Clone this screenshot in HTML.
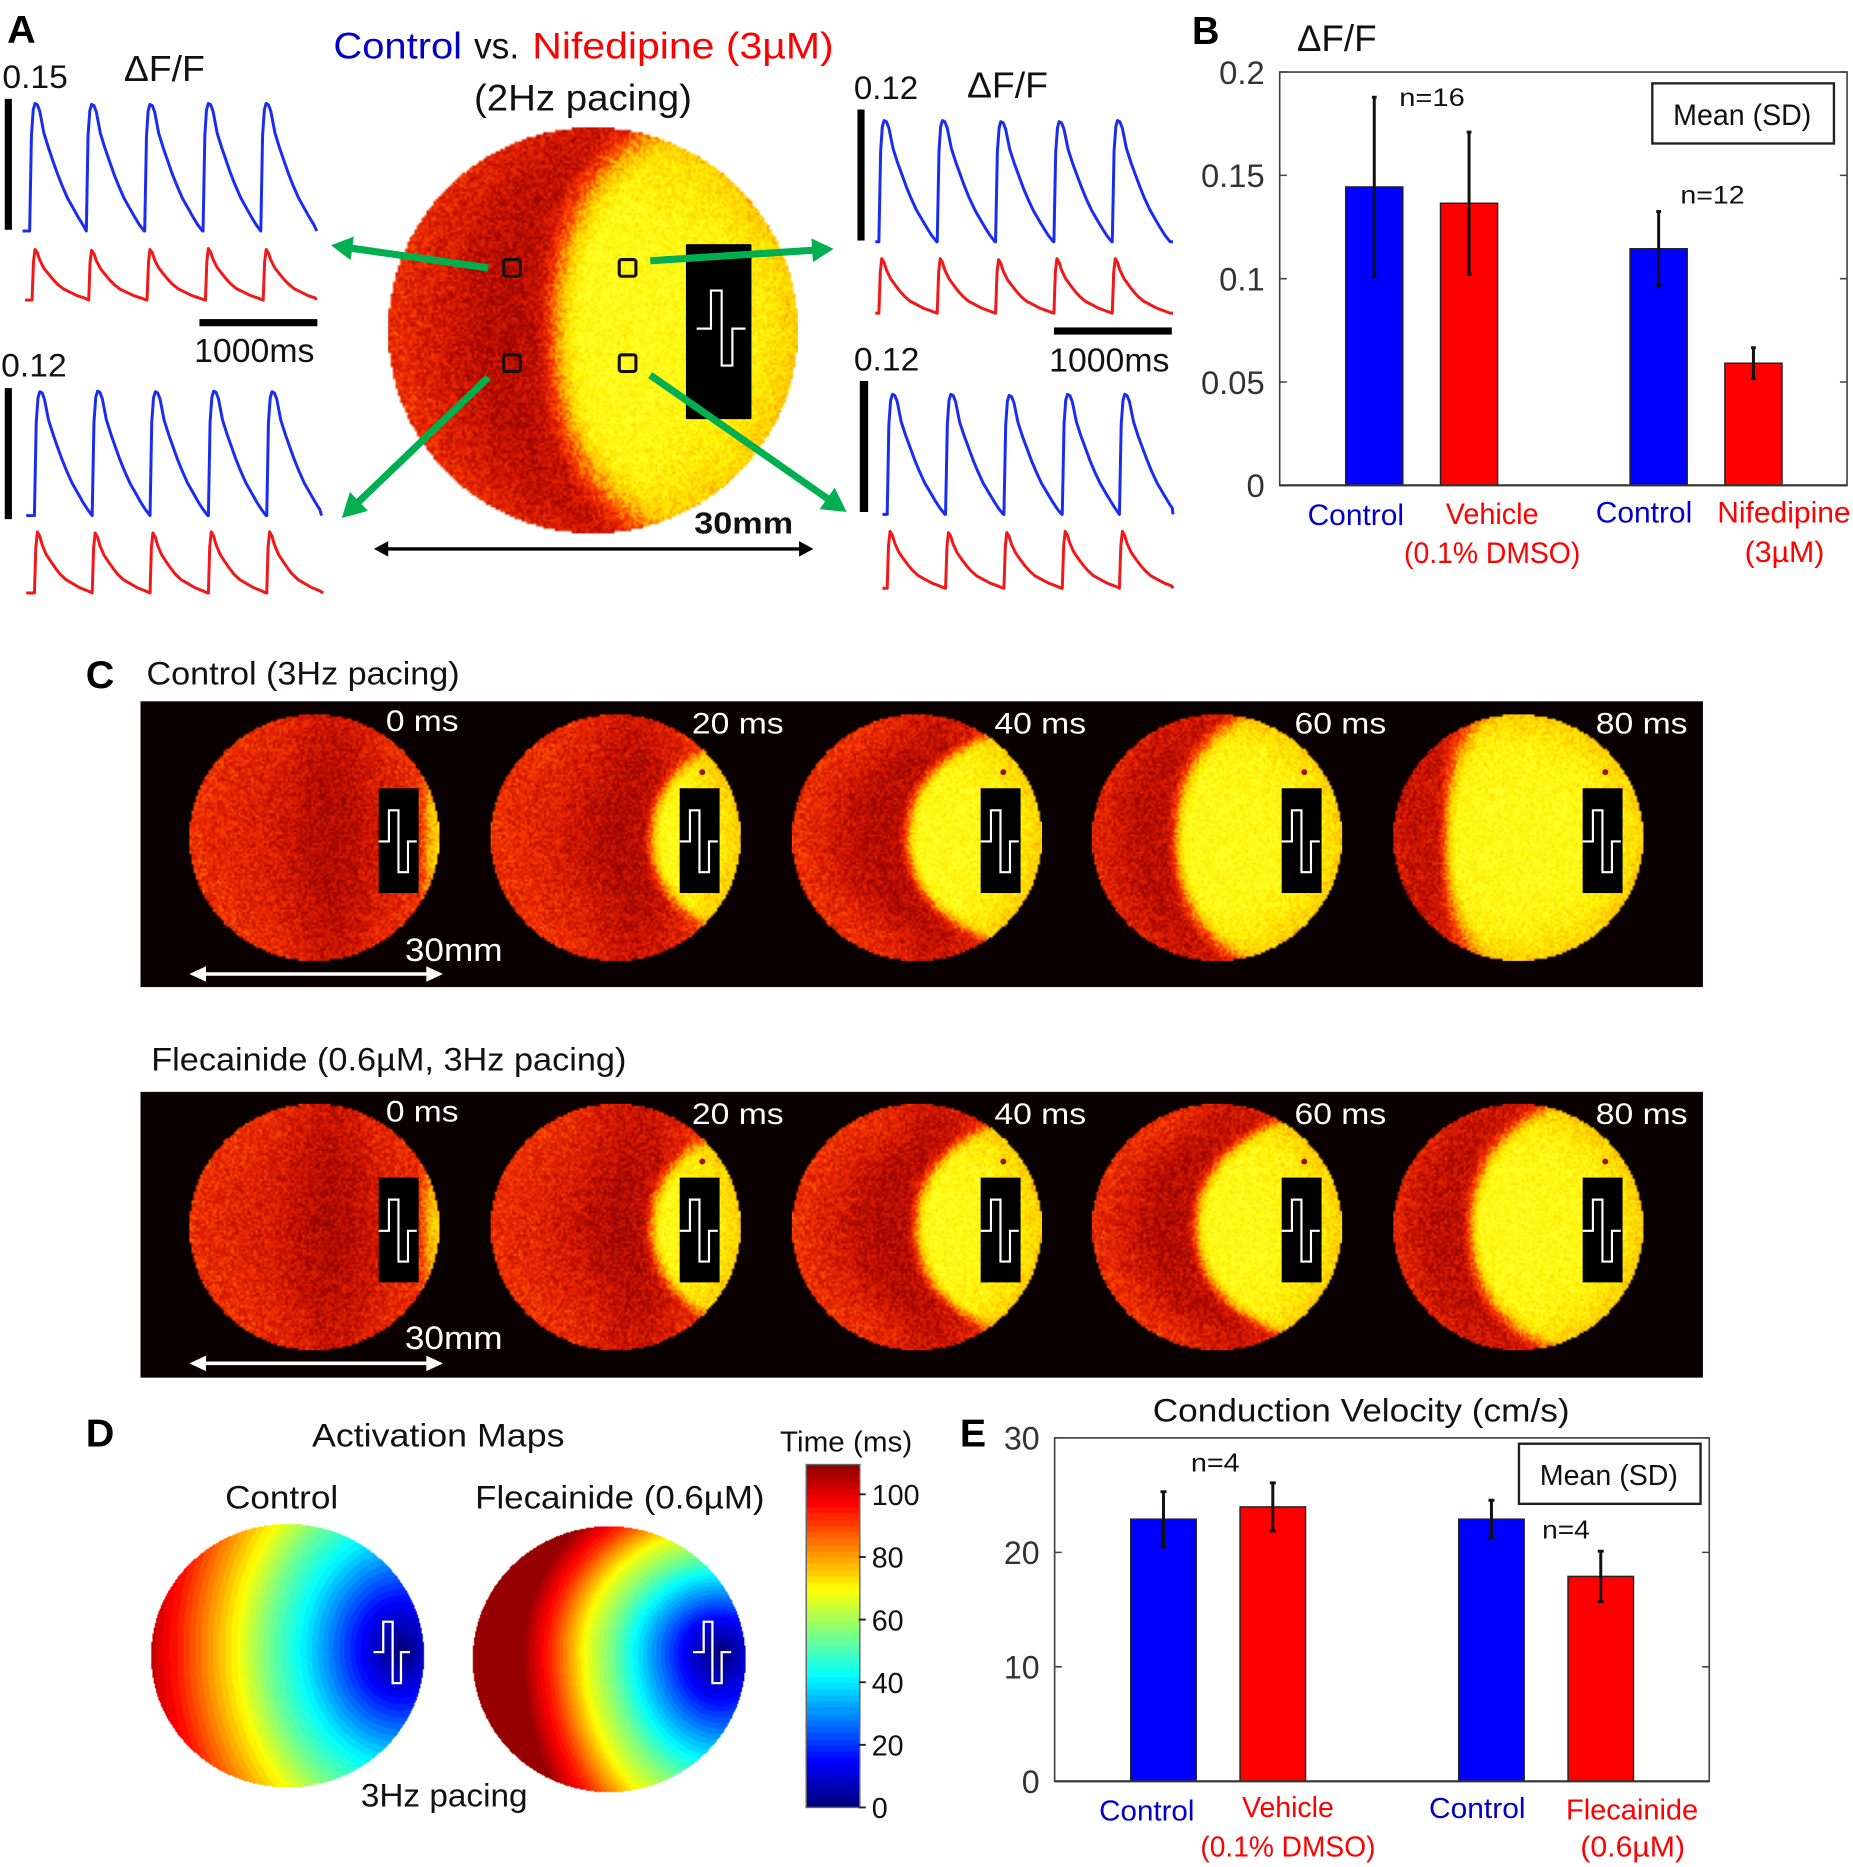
<!DOCTYPE html>
<html lang="en">
<head>
<meta charset="utf-8">
<title>Optical mapping figure: Control vs. Nifedipine and Flecainide</title>
<style>
html,body{margin:0;padding:0;background:#fff;width:1853px;height:1867px;overflow:hidden}
#stage{position:absolute;left:0;top:0;width:1556px;height:1568px;transform:scale(1.19087,1.19069);transform-origin:0 0}
#stage canvas{position:absolute}
.panel-bg{position:absolute;left:118px;width:1312px;height:240px;background:#0a0000}
#overlay{position:absolute;left:0;top:0;width:1556px;height:1568px}
text{font-family:"Liberation Sans",sans-serif;fill:#111}
.letter{font-weight:bold;font-size:33px;fill:#000}
.blue{fill:#0000c8}.red{fill:#ff0000}.white{fill:#fff}
.tick{fill:#333;font-size:26px}
</style>
</head>
<body>
<div id="stage">
  <div class="panel-bg" style="top:589px"></div>
  <div class="panel-bg" style="top:917px"></div>
  <div id="maps"></div>
  <svg id="overlay" viewBox="0 0 1556 1568" xmlns="http://www.w3.org/2000/svg">
    <g id="gA">
      <text class="letter" x="6" y="36" textLength="24" lengthAdjust="spacingAndGlyphs">A</text>
      <text x="280" y="49" font-size="31" class="blue" textLength="108" lengthAdjust="spacingAndGlyphs">Control</text>
      <text x="398" y="49" font-size="31" textLength="38" lengthAdjust="spacingAndGlyphs">vs.</text>
      <text x="447" y="49" font-size="31" class="red" textLength="253" lengthAdjust="spacingAndGlyphs">Nifedipine (3µM)</text>
      <text x="398" y="93" font-size="31" textLength="183" lengthAdjust="spacingAndGlyphs">(2Hz pacing)</text>
      <text x="2" y="74" font-size="27" textLength="55" lengthAdjust="spacingAndGlyphs">0.15</text>
      <text x="104" y="68" font-size="30" textLength="68" lengthAdjust="spacingAndGlyphs">ΔF/F</text>
      <text x="717" y="83" font-size="27" textLength="54" lengthAdjust="spacingAndGlyphs">0.12</text>
      <text x="812" y="82" font-size="30" textLength="68" lengthAdjust="spacingAndGlyphs">ΔF/F</text>
      <text x="1" y="316" font-size="27" textLength="55" lengthAdjust="spacingAndGlyphs">0.12</text>
      <text x="717" y="311" font-size="27" textLength="55" lengthAdjust="spacingAndGlyphs">0.12</text>
      <text x="163" y="304" font-size="28" textLength="101" lengthAdjust="spacingAndGlyphs">1000ms</text>
      <text x="881" y="312" font-size="28" textLength="101" lengthAdjust="spacingAndGlyphs">1000ms</text>
      <text x="583" y="448" font-size="26" font-weight="bold" textLength="83" lengthAdjust="spacingAndGlyphs">30mm</text>
    </g>
    <g id="gB">
      <text class="letter" x="1001" y="37" textLength="23" lengthAdjust="spacingAndGlyphs">B</text>
      <text x="1089" y="43" font-size="31" textLength="67" lengthAdjust="spacingAndGlyphs">ΔF/F</text>
      <text x="1175" y="89" font-size="21" textLength="55" lengthAdjust="spacingAndGlyphs">n=16</text>
      <text x="1411" y="171" font-size="21" textLength="54" lengthAdjust="spacingAndGlyphs">n=12</text>
      <rect x="1387.5" y="70" width="152.5" height="50.5" fill="#fff" stroke="#222" stroke-width="2"/>
      <text x="1405" y="105" font-size="24.5" textLength="116" lengthAdjust="spacingAndGlyphs">Mean (SD)</text>
      <text x="1098" y="441" font-size="24.5" class="blue" textLength="81" lengthAdjust="spacingAndGlyphs">Control</text>
      <text x="1214" y="440" font-size="24.5" class="red" textLength="78" lengthAdjust="spacingAndGlyphs">Vehicle</text>
      <text x="1179" y="473" font-size="24.5" class="red" textLength="148" lengthAdjust="spacingAndGlyphs">(0.1% DMSO)</text>
      <text x="1340" y="439" font-size="24.5" class="blue" textLength="81" lengthAdjust="spacingAndGlyphs">Control</text>
      <text x="1442" y="439" font-size="24.5" class="red" textLength="112" lengthAdjust="spacingAndGlyphs">Nifedipine</text>
      <text x="1465" y="472" font-size="24.5" class="red" textLength="67" lengthAdjust="spacingAndGlyphs">(3µM)</text>
    </g>
    <g id="gC">
      <text class="letter" x="72" y="578" textLength="24" lengthAdjust="spacingAndGlyphs">C</text>
      <text x="123" y="575" font-size="27" textLength="263" lengthAdjust="spacingAndGlyphs">Control (3Hz pacing)</text>
      <text x="127" y="899" font-size="27" textLength="399" lengthAdjust="spacingAndGlyphs">Flecainide (0.6µM, 3Hz pacing)</text>
      <text x="340" y="807" font-size="27" class="white" textLength="82" lengthAdjust="spacingAndGlyphs">30mm</text>
      <text x="340" y="1133" font-size="27" class="white" textLength="82" lengthAdjust="spacingAndGlyphs">30mm</text>
    </g>
    <g id="gD">
      <text class="letter" x="72" y="1215" textLength="24" lengthAdjust="spacingAndGlyphs">D</text>
      <text x="262" y="1215" font-size="27" textLength="212" lengthAdjust="spacingAndGlyphs">Activation Maps</text>
      <text x="189" y="1267" font-size="27" textLength="95" lengthAdjust="spacingAndGlyphs">Control</text>
      <text x="399" y="1267" font-size="27" textLength="243" lengthAdjust="spacingAndGlyphs">Flecainide (0.6µM)</text>
      <text x="303" y="1517" font-size="27" textLength="140" lengthAdjust="spacingAndGlyphs">3Hz pacing</text>
      <text x="655" y="1219" font-size="24" textLength="111" lengthAdjust="spacingAndGlyphs">Time (ms)</text>
    </g>
    <g id="gE">
      <text class="letter" x="806" y="1215" textLength="22" lengthAdjust="spacingAndGlyphs">E</text>
      <text x="968" y="1194" font-size="27" textLength="350" lengthAdjust="spacingAndGlyphs">Conduction Velocity (cm/s)</text>
      <text x="1000" y="1236" font-size="22" textLength="41" lengthAdjust="spacingAndGlyphs">n=4</text>
      <text x="1295" y="1292" font-size="22" textLength="40" lengthAdjust="spacingAndGlyphs">n=4</text>
      <rect x="1275.5" y="1212.5" width="152.5" height="50.5" fill="#fff" stroke="#222" stroke-width="2"/>
      <text x="1293" y="1247" font-size="24" textLength="116" lengthAdjust="spacingAndGlyphs">Mean (SD)</text>
      <text x="923" y="1529" font-size="24" class="blue" textLength="80" lengthAdjust="spacingAndGlyphs">Control</text>
      <text x="1043" y="1526" font-size="24" class="red" textLength="77" lengthAdjust="spacingAndGlyphs">Vehicle</text>
      <text x="1008" y="1559" font-size="24" class="red" textLength="147" lengthAdjust="spacingAndGlyphs">(0.1% DMSO)</text>
      <text x="1200" y="1527" font-size="24" class="blue" textLength="81" lengthAdjust="spacingAndGlyphs">Control</text>
      <text x="1315" y="1528" font-size="24" class="red" textLength="111" lengthAdjust="spacingAndGlyphs">Flecainide</text>
      <text x="1327" y="1559" font-size="24" class="red" textLength="88" lengthAdjust="spacingAndGlyphs">(0.6µM)</text>
    </g>
  </svg>
</div>
<script>
/* ---------- Panel B data ---------- */
const bMeans = [0.1444, 0.1365, 0.1145, 0.0591];
const bSD = [0.0434, 0.0344, 0.018, 0.0075];
const bColors = ['#0000ff', '#ff0000', '#0000ff', '#ff0000'];
const bTicks = [0, 0.05, 0.1, 0.15, 0.2];
const bTickLabels = ['0', '0.05', '0.1', '0.15', '0.2'];
/* ---------- Panel E data ---------- */
const eMeans = [22.9, 23.97, 22.9, 17.9];
const eSD = [2.4, 2.1, 1.65, 2.2];
const eColors = ['#0000ff', '#ff0000', '#0000ff', '#ff0000'];
const eTicks = [0, 10, 20, 30];
const eTickLabels = ['0', '10', '20', '30'];
/* ---------- Panel A traces: one beat template ---------- */
const blueBeatMs = [0, 15, 30, 45, 65, 85, 120, 160, 197, 235, 273, 320, 374, 410, 450, 490];
const blueBeatShape = [0, 0.75, 0.95, 1, 0.99, 0.94, 0.77, 0.65, 0.55, 0.45, 0.36, 0.26, 0.17, 0.11, 0.05, 0];
const redBeatMs = [0, 12, 25, 45, 65, 100, 141, 180, 217, 265, 318, 380, 444, 490];
const redBeatShape = [0, 0.75, 1, 0.93, 0.79, 0.63, 0.51, 0.4, 0.31, 0.22, 0.16, 0.09, 0.04, 0];
const onsetsTL = [60, 540, 1035, 1530, 2020];
const onsetsBL = [70, 560, 1050, 1545, 2040];
const onsetsTR = [30, 525, 1020, 1515, 2010];
const onsetsBR = [40, 535, 1030, 1525, 2010];
const blueAmpTL = [0.146, 0.145, 0.145, 0.146, 0.146];
const redAmpTL = [0.058, 0.057, 0.058, 0.059, 0.058];
const blueAmpBL = [0.1135, 0.114, 0.1135, 0.114, 0.1135];
const redAmpBL = [0.056, 0.055, 0.055, 0.056, 0.056];
const blueAmpTR = [0.111, 0.111, 0.110, 0.110, 0.111];
const redAmpTR = [0.050, 0.050, 0.049, 0.050, 0.050];
const blueAmpBR = [0.110, 0.110, 0.109, 0.110, 0.110];
const redAmpBR = [0.052, 0.051, 0.051, 0.052, 0.052];
/* ---------- Panel C wavefronts (mm from disc centre per frame) ---------- */
const frameLabels = ['0 ms', '20 ms', '40 ms', '60 ms', '80 ms'];
const frontControl = [13.5, 4.4, -1.0, -4.8, -8.6];
const curveControl = [1, 16, 16, 8, 3.9];
const frontFlecainide = [13.5, 4.4, 0, -2.4, -5.6];
const curveFlecainide = [1, 16, 15, 15, 9.7];
/* ---------- Panel D activation curves: distance (px on map) to time (ms) ---------- */
const controlDist = [0, 32, 81, 111, 136, 162, 188, 215, 240];
const controlTime = [0, 14, 41, 55, 69, 82, 95, 106, 110];
const flecDist = [0, 30, 70, 90, 113, 140, 164, 225];
const flecTime = [0, 14, 41, 55, 69, 92, 108, 110];
const colorbarTicks = [0, 20, 40, 60, 80, 100];
const colorbarMax = 109.5;

const NS = 'http://www.w3.org/2000/svg';
const gA = document.getElementById('gA');
const gB = document.getElementById('gB');
const gC = document.getElementById('gC');
const gD = document.getElementById('gD');
const gE = document.getElementById('gE');
const maps = document.getElementById('maps');

function mk(parent, tag, attrs) {
  const el = document.createElementNS(NS, tag);
  for (const k in attrs) el.setAttribute(k, attrs[k]);
  parent.appendChild(el);
  return el;
}

/* ---------- bar charts ---------- */
function drawBarChart(g, prefix, box, yOf, xOf, barW, means, sds, colors, ticks, labels, fontSize, labelRight, capW) {
  const frame = mk(g, 'rect', {x: box.l, y: box.t, width: box.r - box.l, height: box.b - box.t, fill: 'none', stroke: '#444', 'stroke-width': 1.4});
  
  
  ticks.forEach(function (tv, i) {
    const y = yOf(tv);
    const tl = mk(g, 'path', {d: 'M' + box.l + ' ' + y + 'h6M' + box.r + ' ' + y + 'h-6', stroke: '#444', 'stroke-width': 1.3, fill: 'none'});
    
    
    const t = mk(g, 'text', {x: labelRight, y: y + fontSize * 0.36, 'text-anchor': 'end', 'font-size': fontSize, class: 'tick', style: 'font-size:' + fontSize + 'px'});
    t.textContent = labels[i];
    
    
  });
  means.forEach(function (m, i) {
    const cx = xOf(i);
    const bar = mk(g, 'rect', {x: cx - barW / 2, y: yOf(m), width: barW, height: box.b - yOf(m), fill: colors[i], stroke: '#222', 'stroke-width': 1.2});
    
    
    const hi = yOf(m + sds[i]);
    const lo = yOf(m - sds[i]);
    const err = mk(g, 'path', {d: 'M' + cx + ' ' + hi + 'V' + lo + 'M' + (cx - capW) + ' ' + hi + 'h' + (2 * capW) + 'M' + (cx - capW) + ' ' + lo + 'h' + (2 * capW), stroke: '#111', 'stroke-width': 2.5, fill: 'none'});
    
    
  });
  const base = mk(g, 'line', {x1: box.l, x2: box.r, y1: box.b, y2: box.b, stroke: '#333', 'stroke-width': 1.8});
  
  
}
const bBox = {l: 1074.6, r: 1551, t: 60.5, b: 407.6};
function yB(v) { return bBox.b - v / 0.2 * (bBox.b - bBox.t); }
function xB(i) { return 1154 + 79.6 * (i + (i >= 2 ? 1 : 0)); }
drawBarChart(gB, 'b', bBox, yB, xB, 48, bMeans, bSD, bColors, bTicks, bTickLabels, 27.5, 1062, 2);
const eBox = {l: 885.6, r: 1435.3, t: 1207.6, b: 1496};
function yE(v) { return eBox.b - v / 30 * (eBox.b - eBox.t); }
function xE(i) { return 977 + 91.8 * (i + (i >= 2 ? 1 : 0)); }
drawBarChart(gE, 'e', eBox, yE, xE, 55, eMeans, eSD, eColors, eTicks, eTickLabels, 27, 873, 2.5);

/* ---------- traces ---------- */
const pxPerMs = 0.099;
function drawTrace(name, color, x0, endMs, baseY, pxPerUnit, onsets, amps, beatMs, beatShape) {
  const pts = [];
  function px(t, v) { pts.push((x0 + t * pxPerMs).toFixed(1) + ',' + (baseY - v * pxPerUnit).toFixed(1)); }
  px(0, 0);
  onsets.forEach(function (on, i) {
    beatMs.forEach(function (ms, j) {
      const t = on + ms;
      const next = i + 1 < onsets.length ? onsets[i + 1] : endMs;
      if (t <= next) px(t, amps[i] * beatShape[j]);
    });
  });
  px(endMs, 0);
  const p = mk(gA, 'polyline', {points: pts.join(' '), fill: 'none', stroke: color, 'stroke-width': 2.5, 'stroke-linejoin': 'round'});
  
  
}
const blueCol = '#1a2cf0', redCol = '#f01818';
const scale15 = 110 / 0.15, scale12 = 110 / 0.12;
drawTrace('trace-control-top-left', blueCol, 19, 2495, 194, scale15, onsetsTL, blueAmpTL, blueBeatMs, blueBeatShape);
drawTrace('trace-nifedipine-top-left', redCol, 21, 2470, 252, scale15, onsetsTL, redAmpTL, redBeatMs, redBeatShape);
drawTrace('trace-control-bottom-left', blueCol, 22, 2505, 433, scale12, onsetsBL, blueAmpBL, blueBeatMs, blueBeatShape);
drawTrace('trace-nifedipine-bottom-left', redCol, 22, 2520, 498, scale12, onsetsBL, redAmpBL, redBeatMs, redBeatShape);
drawTrace('trace-control-top-right', blueCol, 735, 2525, 203, scale12, onsetsTR, blueAmpTR, blueBeatMs, blueBeatShape);
drawTrace('trace-nifedipine-top-right', redCol, 735, 2525, 263, scale12, onsetsTR, redAmpTR, redBeatMs, redBeatShape);
drawTrace('trace-control-bottom-right', blueCol, 741, 2465, 432, scale12, onsetsBR, blueAmpBR, blueBeatMs, blueBeatShape);
drawTrace('trace-nifedipine-bottom-right', redCol, 741, 2465, 494, scale12, onsetsBR, redAmpBR, redBeatMs, redBeatShape);

/* scale bars */
function blackBar(name, x, y, w, h) {
  const r = mk(gA, 'rect', {x: x, y: y, width: w, height: h, fill: '#000'});
  
  
}
blackBar('amplitude-scale-top-left', 4, 83, 6, 110);
blackBar('amplitude-scale-bottom-left', 4, 326, 6, 110);
blackBar('amplitude-scale-top-right', 720, 92, 6, 110);
blackBar('amplitude-scale-bottom-right', 722, 320, 7, 110);
blackBar('time-scale-left', 167.5, 268, 99, 6);
blackBar('time-scale-right', 885, 275, 99, 6);

/* ---------- noise texture, colours ---------- */
function hash(i, j) { const s = Math.sin(i * 127.1 + j * 311.7) * 43758.5453; return s - Math.floor(s); }
function clamp01(v) { return v < 0 ? 0 : v > 1 ? 1 : v; }
const heatStops = [[0, 90, 0, 0], [0.25, 160, 6, 0], [0.4, 222, 28, 0], [0.52, 250, 62, 0], [0.72, 255, 190, 0], [0.88, 255, 238, 0], [1, 255, 255, 40]];
function heat(v) {
  v = clamp01(v);
  for (let i = 1; i < heatStops.length; i++) {
    if (v <= heatStops[i][0]) {
      const a = heatStops[i - 1], b = heatStops[i], f = (v - a[0]) / (b[0] - a[0]);
      return [a[1] + f * (b[1] - a[1]), a[2] + f * (b[2] - a[2]), a[3] + f * (b[3] - a[3])];
    }
  }
  return heatStops[heatStops.length - 1].slice(1);
}
function jet(v) {
  v = clamp01(v);
  return [clamp01(1.5 - Math.abs(4 * v - 3)) * 255, clamp01(1.5 - Math.abs(4 * v - 2)) * 255, clamp01(1.5 - Math.abs(4 * v - 1)) * 255];
}
function makeCanvas(name, left, top, w, h, cell) {
  const c = document.createElement('canvas');
  c.width = Math.round(w / cell);
  c.height = Math.round(h / cell);
  c.style.left = left + 'px';
  c.style.top = top + 'px';
  c.style.width = w + 'px';
  c.style.height = h + 'px';
  
  
  maps.appendChild(c);
  return c;
}

/* ---------- voltage discs ---------- */
function drawDisc(name, cx, cy, rx, ry, frontMm, curveMm, cell, seed, widthBase) {
  const mm = rx / 15;
  const c = makeCanvas(name, cx - rx, cy - ry, 2 * rx, 2 * ry, cell);
  const ctx = c.getContext('2d');
  const img = ctx.createImageData(c.width, c.height);
  for (let j = 0; j < c.height; j++) {
    for (let i = 0; i < c.width; i++) {
      const nx = (i + 0.5) / c.width * 2 - 1;
      const ny = (j + 0.5) / c.height * 2 - 1;
      const rr = nx * nx + ny * ny;
      if (rr > 1) continue;
      const xp = nx * rx;
      const tt = ny;
      const w = rx * (widthBase + 0.12 * tt * tt);
      const bx = frontMm * mm + curveMm * mm * (0.55 * tt * tt + 0.45 * tt * tt * tt * tt);
      const s = clamp01((xp - bx) / (2 * w) + 0.5);
      const ss = s * s * (3 - 2 * s);
      const bandCentre = Math.min(bx - 0.28 * rx, 0.15 * rx);
      const band = Math.exp(-Math.pow((bandCentre - xp) / (0.35 * rx), 2));
      const low = 0.39 + 0.08 * rr - 0.11 * band;
      const high = 0.97 - 0.2 * rr * rr;
      const n = (hash(i + seed, j) - 0.5) * 0.2 + (hash(j + 3 * seed, i + 7) - 0.5) * 0.08;
      const col = heat(low + (high - low) * ss + n);
      const k = 4 * (j * c.width + i);
      img.data[k] = col[0]; img.data[k + 1] = col[1]; img.data[k + 2] = col[2]; img.data[k + 3] = 255;
    }
  }
  ctx.putImageData(img, 0, 0);
}
drawDisc('voltage-map-control-2hz', 498, 277, 172, 170.5, -2.6, 7, 2, 11, 0.13);

const rowStep = 252.75;
function drawPacingSymbol(g, name, x0, x1, x2, x3, x4, top, mid, bot, sw) {
  const pts = [[x0, mid], [x1, mid], [x1, top], [x2, top], [x2, bot], [x3, bot], [x3, mid], [x4, mid]].map(function (p) { return p.join(','); }).join(' ');
  const s = mk(g, 'polyline', {points: pts, fill: 'none', stroke: '#fff', 'stroke-width': sw});
  
  
}
function arrowPolygon(g, name, x1, y1, x2, y2, w, hl, hw, color) {
  const dx = x2 - x1, dy = y2 - y1, L = Math.hypot(dx, dy), ux = dx / L, uy = dy / L, nx = -uy, ny = ux;
  const bx = x2 - ux * hl, by = y2 - uy * hl;
  const pts = [[x1 + nx * w / 2, y1 + ny * w / 2], [bx + nx * w / 2, by + ny * w / 2], [bx + nx * hw / 2, by + ny * hw / 2], [x2, y2], [bx - nx * hw / 2, by - ny * hw / 2], [bx - nx * w / 2, by - ny * w / 2], [x1 - nx * w / 2, y1 - ny * w / 2]];
  const a = mk(g, 'polygon', {points: pts.map(function (p) { return p[0].toFixed(1) + ',' + p[1].toFixed(1); }).join(' '), fill: color});
  
  
}
function doubleArrow(g, name, x1, x2, y, w, hl, hw, color) {
  const a = mk(g, 'polygon', {points: [[x1, y], [x1 + hl, y - hw / 2], [x1 + hl, y - w / 2], [x2 - hl, y - w / 2], [x2 - hl, y - hw / 2], [x2, y], [x2 - hl, y + hw / 2], [x2 - hl, y + w / 2], [x1 + hl, y + w / 2], [x1 + hl, y + hw / 2]].map(function (p) { return p.join(','); }).join(' '), fill: color});
  
  
}

function drawRow(prefix, cy, labelBaseFirst, labelBase, fronts, curves, seedBase) {
  frameLabels.forEach(function (label, i) {
    const cx = 264 + rowStep * i;
    drawDisc(prefix + '-frame-' + i, cx, cy, 105, 103.5, fronts[i], curves[i], 1.8, seedBase + i * 17, 0.09);
    const rectEl = mk(gC, 'rect', {x: cx + 54, y: cy - 41.5, width: 33.5, height: 88, fill: '#000'});
    
    
    drawPacingSymbol(gC, prefix + '-pacing-symbol-' + i, cx + 54, cx + 62.6, cx + 70.6, cx + 78.6, cx + 86, cy - 23, cy + 3.2, cy + 29, 1.8);
    if (i > 0) {
      const dot = mk(gC, 'circle', {cx: cx + 73, cy: cy - 55, r: 2.5, fill: '#a01008'});
      
      
    }
    const lx = [324, 581, 835, 1087, 1340][i];
    const lw = i === 0 ? 61 : 77;
    const t = mk(gC, 'text', {x: lx, y: i === 0 ? labelBaseFirst : labelBase, 'font-size': 25, class: 'white', textLength: lw, lengthAdjust: 'spacingAndGlyphs'});
    t.textContent = label;
    
    
  });
}
drawRow('control', 703.5, 614, 616, frontControl, curveControl, 101);
drawRow('flecainide', 1030.5, 942, 944, frontFlecainide, curveFlecainide, 401);
doubleArrow(gC, 'control-scale-arrow', 159, 372, 818, 3, 14, 13, '#fff');
doubleArrow(gC, 'flecainide-scale-arrow', 159, 372, 1145, 3, 14, 13, '#fff');

/* central disc overlay */
function recordingSquare(name, x, y) {
  const r = mk(gA, 'rect', {x: x - 7, y: y - 7, width: 14, height: 14, rx: 2, fill: 'none', stroke: '#141010', 'stroke-width': 2.6});
  
  
}
recordingSquare('recording-site-upper-left', 430, 225);
recordingSquare('recording-site-upper-right', 527, 225);
recordingSquare('recording-site-lower-left', 430, 305);
recordingSquare('recording-site-lower-right', 527, 305);
const blockA = mk(gA, 'rect', {x: 576, y: 205, width: 55, height: 147, rx: 1, fill: '#000'});


drawPacingSymbol(gA, 'pacing-symbol', 585, 597, 606, 615, 626, 244, 276, 307, 1.8);
arrowPolygon(gA, 'arrow-to-top-left-traces', 410, 225, 278, 206, 6, 18, 20, '#00b050');
arrowPolygon(gA, 'arrow-to-top-right-traces', 546, 219, 700, 209, 6, 18, 20, '#00b050');
arrowPolygon(gA, 'arrow-to-bottom-left-traces', 410, 317, 287, 435, 6, 20, 22, '#00b050');
arrowPolygon(gA, 'arrow-to-bottom-right-traces', 546, 315, 711, 430, 6, 20, 22, '#00b050');
doubleArrow(gA, 'disc-scale-arrow', 314, 683, 461, 2.8, 12, 13, '#000');

/* ---------- activation maps ---------- */
function interp(xs, ys, x) {
  if (x <= xs[0]) return ys[0];
  for (let i = 1; i < xs.length; i++) {
    if (x <= xs[i]) return ys[i - 1] + (x - xs[i - 1]) / (xs[i] - xs[i - 1]) * (ys[i] - ys[i - 1]);
  }
  return ys[ys.length - 1];
}
function drawActivationMap(name, cx, cy, rx, ry, sx, sy, qUp, qDown, dists, times) {
  const c = makeCanvas(name, cx - rx, cy - ry, 2 * rx, 2 * ry, 1);
  const ctx = c.getContext('2d');
  const img = ctx.createImageData(c.width, c.height);
  for (let j = 0; j < c.height; j++) {
    for (let i = 0; i < c.width; i++) {
      const nx = (i + 0.5) / c.width * 2 - 1;
      const ny = (j + 0.5) / c.height * 2 - 1;
      if (nx * nx + ny * ny > 0.985) continue;
      const rawDy = cy + ny * ry - sy;
      const dx = cx + nx * rx - sx, dy = rawDy * (rawDy < 0 ? qUp : qDown);
      const t = Math.floor(interp(dists, times, Math.hypot(dx, dy)) / 2.5) * 2.5;
      const col = jet(t / 110);
      const k = 4 * (j * c.width + i);
      img.data[k] = col[0]; img.data[k + 1] = col[1]; img.data[k + 2] = col[2]; img.data[k + 3] = 255;
    }
  }
  ctx.putImageData(img, 0, 0);
}
drawActivationMap('activation-map-control', 241, 1390, 115.5, 111.5, 336, 1385, 0.84, 0.84, controlDist, controlTime);
drawActivationMap('activation-map-flecainide', 511, 1393, 115.5, 112.5, 604, 1387, 1.1, 0.78, flecDist, flecTime);
drawPacingSymbol(gD, 'pacing-symbol-control-map', 313.6, 321.8, 329.7, 336.7, 344.3, 1362, 1387.5, 1413.6, 1.9);
drawPacingSymbol(gD, 'pacing-symbol-flecainide-map', 582, 590.9, 598.2, 606, 614, 1362, 1387.5, 1413.6, 1.9);

/* colorbar */
const cbTop = 1230, cbBottom = 1518, cbLeft = 677, cbRight = 722;
function yCb(t) { return cbBottom - t / colorbarMax * (cbBottom - cbTop); }
const cb = makeCanvas('colorbar', cbLeft, cbTop, cbRight - cbLeft, cbBottom - cbTop, 1);
const cbCtx = cb.getContext('2d');
for (let j = 0; j < cb.height; j++) {
  const t = Math.floor((colorbarMax * (1 - j / cb.height)) / 2) * 2;
  const col = jet(t / 110);
  cbCtx.fillStyle = 'rgb(' + Math.round(col[0]) + ',' + Math.round(col[1]) + ',' + Math.round(col[2]) + ')';
  cbCtx.fillRect(0, j, cb.width, 1);
}
const cbFrame = mk(gD, 'rect', {x: cbLeft, y: cbTop, width: cbRight - cbLeft, height: cbBottom - cbTop, fill: 'none', stroke: '#666', 'stroke-width': 1.2});


colorbarTicks.forEach(function (tv) {
  const y = yCb(tv);
  const tk = mk(gD, 'line', {x1: cbRight - 1, x2: cbRight + 5, y1: y, y2: y, stroke: '#222', 'stroke-width': 1.6});
  
  
  const t = mk(gD, 'text', {x: 732, y: y + 9, 'font-size': 24, textLength: String(tv).length * 13.4, lengthAdjust: 'spacingAndGlyphs'});
  t.textContent = String(tv);
  
  
});
</script>
</body>
</html>
